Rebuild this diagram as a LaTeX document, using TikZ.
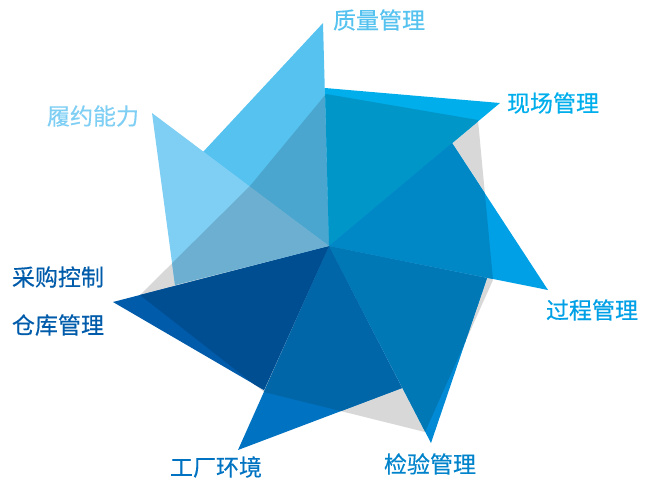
\documentclass[tikz,border=0pt]{standalone}
\usepackage{fontspec}
\setmainfont{Noto Sans CJK SC}[FakeBold=0.4]
\usepackage{xcolor}

% blade colours: plain part and part over the grey shadow
\definecolor{zlOut}{HTML}{56C2EF}\definecolor{zlIn}{HTML}{4AA6CE}
\definecolor{xcOut}{HTML}{00AEEC}\definecolor{xcIn}{HTML}{0096C8}
\definecolor{gcOut}{HTML}{00A0E6}\definecolor{gcIn}{HTML}{0088C6}
\definecolor{jyOut}{HTML}{008AD6}\definecolor{jyIn}{HTML}{0078B6}
\definecolor{gfOut}{HTML}{0072C2}\definecolor{gfIn}{HTML}{0066A8}
\definecolor{ckOut}{HTML}{005BAA}\definecolor{ckIn}{HTML}{004E92}
\definecolor{lyOut}{HTML}{7FCEF4}\definecolor{lyIn}{HTML}{6CAFD0}
\definecolor{shadow}{HTML}{D8D8D8}

\tikzset{
  lbl/.style={font=\fontsize{23}{23}\selectfont, inner sep=0pt},
}

\begin{document}
\begin{tikzpicture}[x=1pt, y=-1pt]
\useasboundingbox (0,0) rectangle (650,480);

% Centre, tips and inner corners
\coordinate (c) at (329,246);
\coordinate (t1) at (323,23);  \coordinate (b1) at (203,152);
\coordinate (t2) at (500,103); \coordinate (b2) at (325,88);
\coordinate (t3) at (548,290); \coordinate (b3) at (452,143);
\coordinate (t4) at (431,443); \coordinate (b4) at (487,278);
\coordinate (t5) at (238,450); \coordinate (b5) at (402,388);
\coordinate (t6) at (113,302); \coordinate (b6) at (264,390);
\coordinate (t8) at (152,113); \coordinate (b8) at (175,285);

% Shadow polygon
\coordinate (g1) at (326,94);
\coordinate (g2) at (478,120);
\coordinate (g3) at (493,280);
\coordinate (g4) at (425,432);
\coordinate (g5) at (264,392);
\coordinate (g6) at (140,295);
\coordinate (g7) at (250,186);
\fill[shadow] (g1) -- (g2) -- (g3) -- (g4) -- (g5) -- (g6) -- (g7) -- cycle;

% Blades
\fill[zlOut] (c) -- (b1) -- (t1) -- cycle;
\fill[xcOut] (c) -- (b2) -- (t2) -- cycle;
\fill[gcOut] (c) -- (b3) -- (t3) -- cycle;
\fill[jyOut] (c) -- (b4) -- (t4) -- cycle;
\fill[gfOut] (c) -- (b5) -- (t5) -- cycle;
\fill[ckOut] (c) -- (b6) -- (t6) -- cycle;
\fill[lyOut] (c) -- (b8) -- (t8) -- cycle;

% Blade parts over the shadow
\begin{scope}
\clip (g1) -- (g2) -- (g3) -- (g4) -- (g5) -- (g6) -- (g7) -- cycle;
\fill[zlIn] (c) -- (b1) -- (t1) -- cycle;
\fill[xcIn] (c) -- (b2) -- (t2) -- cycle;
\fill[gcIn] (c) -- (b3) -- (t3) -- cycle;
\fill[jyIn] (c) -- (b4) -- (t4) -- cycle;
\fill[gfIn] (c) -- (b5) -- (t5) -- cycle;
\fill[ckIn] (c) -- (b6) -- (t6) -- cycle;
\fill[lyIn] (c) -- (b8) -- (t8) -- cycle;
\end{scope}

% Labels
\node[lbl, text=zlOut] (zl) at (379,20) {质量管理};
\node[lbl, text=xcOut] (xc) at (553,103) {现场管理};
\node[lbl, text=gcOut] (gc) at (592,310) {过程管理};
\node[lbl, text=jyOut!95!black] (jy) at (430,464) {检验管理};
\node[lbl, text=gfOut] (gf) at (216,467) {工厂环境};
\node[lbl, text=ckOut] (cg) at (58,277) {采购控制};
\node[lbl, text=ckOut] (ck) at (58,325) {仓库管理};
\node[lbl, text=lyOut] (ly) at (93,116) {履约能力};
\end{tikzpicture}
\end{document}
